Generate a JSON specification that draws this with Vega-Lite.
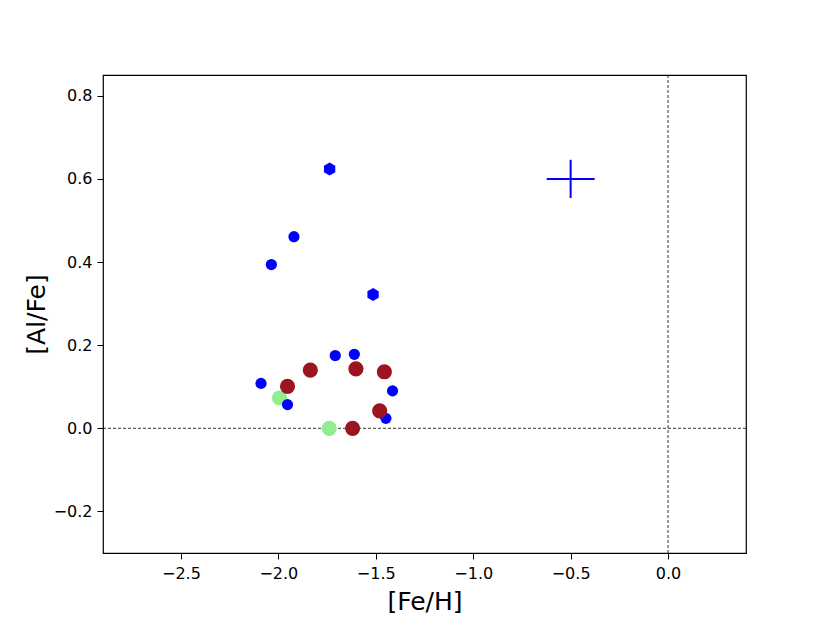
{
  "$schema": "https://vega.github.io/schema/vega-lite/v6.json",
  "autosize": {"type": "none"},
  "padding": {"left": 103, "top": 75, "right": 84, "bottom": 70},
  "width": 643,
  "height": 478,
  "background": "white",
  "config": {
    "font": "DejaVu Sans",
    "view": {"stroke": "black", "strokeWidth": 1.2},
    "axis": {
      "grid": false,
      "domain": false,
      "tickColor": "black",
      "tickSize": 6,
      "tickWidth": 1,
      "labelFont": "DejaVu Sans",
      "labelFontSize": 16,
      "labelColor": "black",
      "titleFont": "DejaVu Sans",
      "titleFontSize": 25,
      "titleFontWeight": "normal",
      "titleColor": "black"
    }
  },
  "datasets": {
    "blueCircles": [
      {"feh": -1.920, "alfe": 0.461},
      {"feh": -2.036, "alfe": 0.394},
      {"feh": -2.089, "alfe": 0.108},
      {"feh": -1.708, "alfe": 0.175},
      {"feh": -1.610, "alfe": 0.178},
      {"feh": -1.414, "alfe": 0.090},
      {"feh": -1.953, "alfe": 0.057},
      {"feh": -1.448, "alfe": 0.024}
    ],
    "blueHex": [
      {"feh": -1.737, "alfe": 0.624},
      {"feh": -1.514, "alfe": 0.322}
    ],
    "green": [
      {"feh": -1.994, "alfe": 0.073},
      {"feh": -1.739, "alfe": 0.0}
    ],
    "red": [
      {"feh": -1.836, "alfe": 0.140},
      {"feh": -1.602, "alfe": 0.143},
      {"feh": -1.456, "alfe": 0.136},
      {"feh": -1.953, "alfe": 0.101},
      {"feh": -1.480, "alfe": 0.042},
      {"feh": -1.619, "alfe": 0.0}
    ],
    "err": [
      {"feh": -0.5, "alfe": 0.6, "fehlo": -0.623, "fehhi": -0.377, "alfelo": 0.554, "alfehi": 0.646}
    ],
    "zero": [{"v": 0}]
  },
  "layer": [
    {
      "data": {"name": "zero"},
      "mark": {"type": "rule", "color": "black", "strokeWidth": 0.8, "strokeDash": [3, 2]},
      "encoding": {
        "y": {"field": "v", "type": "quantitative", "scale": {"domain": [-0.3, 0.85], "nice": false, "zero": false},
          "axis": {"title": "[Al/Fe]", "values": [-0.2, 0, 0.2, 0.4, 0.6, 0.8], "format": ".1f", "labelPadding": 5, "titlePadding": 4}}
      }
    },
    {
      "data": {"name": "zero"},
      "mark": {"type": "rule", "color": "black", "strokeWidth": 0.8, "strokeDash": [3, 2]},
      "encoding": {
        "x": {"field": "v", "type": "quantitative", "scale": {"domain": [-2.9, 0.4], "nice": false, "zero": false},
          "axis": {"title": "[Fe/H]", "values": [-2.5, -2, -1.5, -1, -0.5, 0], "format": ".1f", "labelPadding": 6, "titlePadding": 8}}
      }
    },
    {
      "data": {"name": "green"},
      "mark": {"type": "point", "shape": "circle", "filled": true, "color": "#90ee90", "opacity": 1, "size": 230, "strokeWidth": 0},
      "encoding": {
        "x": {"field": "feh", "type": "quantitative"},
        "y": {"field": "alfe", "type": "quantitative"}
      }
    },
    {
      "data": {"name": "blueCircles"},
      "mark": {"type": "point", "shape": "circle", "filled": true, "color": "#0000ff", "opacity": 1, "size": 125, "strokeWidth": 0},
      "encoding": {
        "x": {"field": "feh", "type": "quantitative"},
        "y": {"field": "alfe", "type": "quantitative"}
      }
    },
    {
      "data": {"name": "blueHex"},
      "mark": {"type": "point", "shape": "M0,-1L0.866,-0.5L0.866,0.5L0,1L-0.866,0.5L-0.866,-0.5Z", "filled": true, "color": "#0000ff", "opacity": 1, "size": 170, "strokeWidth": 0},
      "encoding": {
        "x": {"field": "feh", "type": "quantitative"},
        "y": {"field": "alfe", "type": "quantitative"}
      }
    },
    {
      "data": {"name": "red"},
      "mark": {"type": "point", "shape": "circle", "filled": true, "color": "#9b1420", "opacity": 1, "size": 230, "strokeWidth": 0},
      "encoding": {
        "x": {"field": "feh", "type": "quantitative"},
        "y": {"field": "alfe", "type": "quantitative"}
      }
    },
    {
      "data": {"name": "err"},
      "mark": {"type": "rule", "color": "#0000ff", "strokeWidth": 2},
      "encoding": {
        "x": {"field": "fehlo", "type": "quantitative"},
        "x2": {"field": "fehhi"},
        "y": {"field": "alfe", "type": "quantitative"}
      }
    },
    {
      "data": {"name": "err"},
      "mark": {"type": "rule", "color": "#0000ff", "strokeWidth": 2},
      "encoding": {
        "y": {"field": "alfelo", "type": "quantitative"},
        "y2": {"field": "alfehi"},
        "x": {"field": "feh", "type": "quantitative"}
      }
    }
  ]
}
